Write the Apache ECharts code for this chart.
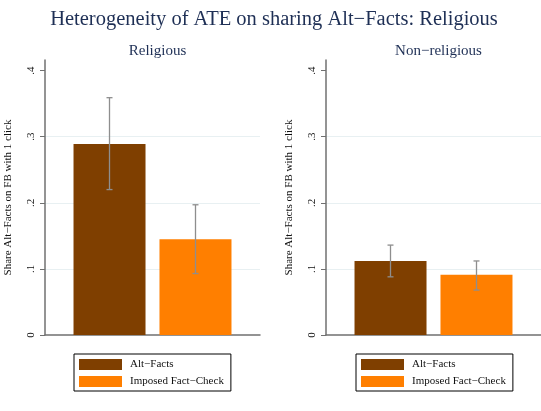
<!DOCTYPE html>
<html>
<head>
<meta charset="utf-8">
<script src="https://cdn.jsdelivr.net/npm/echarts@6/dist/echarts.min.js"></script>
<style>
  html, body { margin: 0; padding: 0; background: #fff; }
  #chart { width: 541px; height: 411px; }
</style>
</head>
<body>
<div id="chart"></div>
<script>
// panels and values
var panels = ["Religious", "Non\u2212religious"];
var seriesNames = ["Alt\u2212Facts", "Imposed Fact\u2212Check"];
var altFacts = [0.289, 0.112];
var imposed = [0.145, 0.091];
var altLow = [0.220, 0.088],
    altHigh = [0.359, 0.136];
var impLow = [0.093, 0.068],
    impHigh = [0.197, 0.112];
var yTicks = [0, 0.1, 0.2, 0.3, 0.4];
var yMax = 0.416;

var FONT = "'Liberation Serif', 'Times New Roman', serif",
    NAVY = "#1e2f55",
    colors = ["#7f3f00", "#ff7f00"],
    barW = 72,
    barGap = 14;

var chart = echarts.init(document.getElementById("chart"));

var grids = [
    { left: 45, top: 60, width: 215, height: 275 },
    { left: 326, top: 60, width: 215, height: 275 }
];

function tickFmt(v) {
    return v === 0 ? "0" : String(+v.toFixed(2)).replace(/^0/, "");
}

var xAxes = [], yAxes = [], series = [], legends = [], titles = [];

titles.push({
    text: "Heterogeneity of ATE on sharing Alt\u2212Facts: Religious",
    left: 269, top: 4, textAlign: "center",
    textStyle: { fontFamily: FONT, fontWeight: "normal", fontSize: 20.5, color: NAVY }
});

panels.forEach(function(p, i) {
    titles.push({
        text: p,
        left: grids[i].left + grids[i].width / 2, top: 39, textAlign: "center",
        textStyle: { fontFamily: FONT, fontWeight: "normal", fontSize: 15, color: NAVY }
    });
    xAxes.push({
        gridIndex: i,
        type: "category",
        data: [p],
        axisLine: { lineStyle: { color: "#707070", width: 1.5 } },
        axisTick: { show: false },
        axisLabel: { show: false }
    });
    yAxes.push({
        gridIndex: i,
        type: "value",
        min: 0,
        max: yMax,
        name: "Share Alt\u2212Facts on FB with 1 click",
        nameLocation: "middle",
        nameGap: 31,
        nameTextStyle: { fontFamily: FONT, fontSize: 11, color: "#111" },
        axisLine: { show: true, lineStyle: { color: "#707070", width: 1.5 } },
        axisTick: { show: true, length: 5, customValues: yTicks, lineStyle: { color: "#707070" } },
        axisLabel: {
            customValues: yTicks,
            rotate: 90,
            margin: 8,
            fontFamily: FONT,
            fontSize: 11,
            color: "#111",
            formatter: tickFmt
        },
        splitLine: { show: true, showMinLine: false, showMaxLine: false, lineStyle: { color: "#e8f0f2", width: 1 } }
    });
    series.push({
        name: seriesNames[0],
        type: "bar",
        xAxisIndex: i, yAxisIndex: i,
        barWidth: barW,
        barGap: (barGap / barW * 100).toFixed(1) + "%",
        itemStyle: { color: colors[0] },
        data: [altFacts[i]]
    });
    series.push({
        name: seriesNames[1],
        type: "bar",
        xAxisIndex: i, yAxisIndex: i,
        barWidth: barW,
        itemStyle: { color: colors[1] },
        data: [imposed[i]]
    });
    series.push({
        type: "custom",
        xAxisIndex: i, yAxisIndex: i,
        z: 10,
        silent: true,
        data: [[0, altLow[i], altHigh[i], -1], [0, impLow[i], impHigh[i], 1]],
        renderItem: function(params, api) {
            var lo = api.coord([api.value(0), api.value(1)]),
                hi = api.coord([api.value(0), api.value(2)]),
                x = lo[0] + api.value(3) * (barW + barGap) / 2,
                cap = 3,
                style = { stroke: "#8e8e8e", lineWidth: 1.3 };
            return {
                type: "group",
                children: [
                    { type: "line", shape: { x1: x, y1: lo[1], x2: x, y2: hi[1] }, style: style },
                    { type: "line", shape: { x1: x - cap, y1: lo[1], x2: x + cap, y2: lo[1] }, style: style },
                    { type: "line", shape: { x1: x - cap, y1: hi[1], x2: x + cap, y2: hi[1] }, style: style }
                ]
            };
        }
    });
    legends.push({
        data: seriesNames,
        orient: "vertical",
        left: i === 0 ? 74 : 356,
        top: 354,
        icon: "rect",
        itemWidth: 43,
        itemHeight: 11,
        itemGap: 6,
        padding: [5, 7, 4, 5],
        borderColor: "#000",
        borderWidth: 1,
        borderRadius: 0,
        selectedMode: false,
        textStyle: { fontFamily: FONT, fontSize: 11, color: "#111", padding: [0, 0, 0, 3] }
    });
});

chart.setOption({
    backgroundColor: "#fff",
    animation: false,
    title: titles,
    grid: grids,
    xAxis: xAxes,
    yAxis: yAxes,
    legend: legends,
    series: series
});
</script>
</body>
</html>
